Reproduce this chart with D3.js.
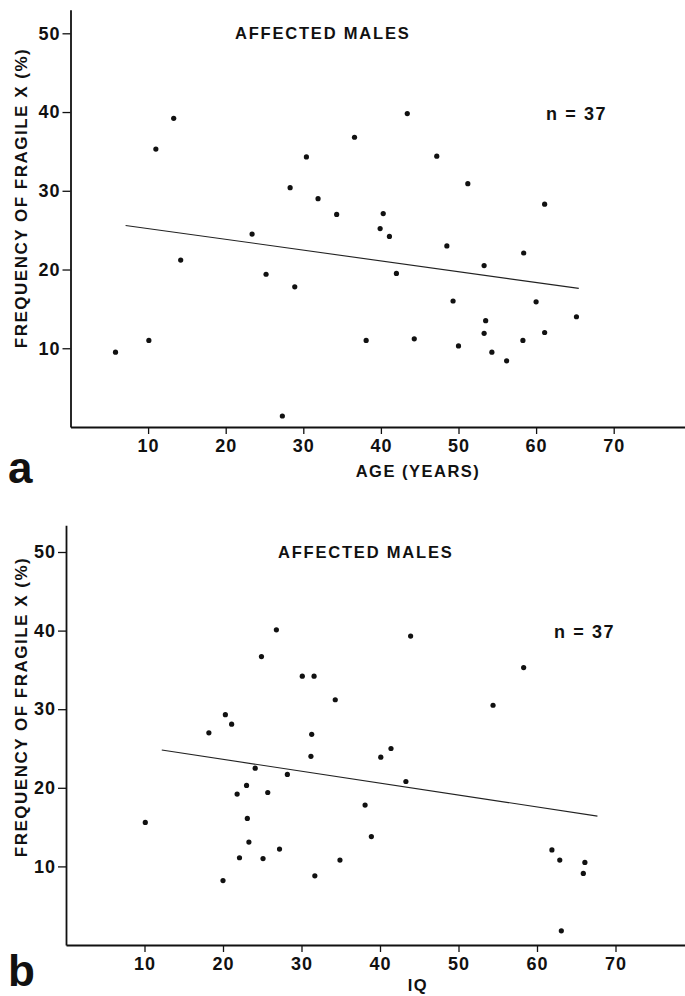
<!DOCTYPE html>
<html>
<head>
<meta charset="utf-8">
<script src="https://cdn.jsdelivr.net/npm/d3@7"></script>
<style>
    body { margin: 0; background: #fff; }
    svg { display: block; }
    text { font-family: "Liberation Sans", Arial, Helvetica, sans-serif; font-weight: bold; fill: #111; }
</style>
</head>
<body>
<script>
// panel a: age vs frequency of fragile X
var ageX = [11.0, 13.3, 28.3, 30.4, 31.9, 34.3, 36.6, 43.4, 40.3, 39.9, 41.1, 47.2, 51.2,
    61.1, 23.4, 48.5, 58.4, 14.2, 53.3, 25.2, 42.0, 28.9, 49.3, 60.0, 53.5, 65.2,
    53.3, 61.1, 5.8, 10.1, 38.1, 44.3, 58.3, 50.0, 54.3, 56.2, 27.3];
var ageFreq = [35.3, 39.2, 30.4, 34.3, 29.0, 27.0, 36.8, 39.8, 27.1, 25.2, 24.2, 34.4, 30.9,
    28.3, 24.5, 23.0, 22.1, 21.2, 20.5, 19.4, 19.5, 17.8, 16.0, 15.9, 13.5, 14.0,
    11.9, 12.0, 9.5, 11.0, 11.0, 11.2, 11.0, 10.3, 9.5, 8.4, 1.4];
var ageLine = [[7.1, 25.6], [65.5, 17.6]];

// panel b: IQ vs frequency of fragile X
var iqX = [26.8, 43.9, 24.9, 30.1, 31.6, 34.3, 58.3, 54.4, 20.3, 21.1, 18.2, 31.3, 31.2,
    40.1, 41.4, 24.1, 28.2, 43.3, 23.0, 21.8, 25.7, 38.1, 10.1, 23.1, 38.9, 23.3,
    27.2, 22.1, 25.1, 34.9, 61.9, 62.9, 66.1, 65.9, 20.0, 31.7, 63.1];
var iqFreq = [40.1, 39.3, 36.7, 34.2, 34.2, 31.2, 35.3, 30.5, 29.3, 28.1, 27.0, 26.8, 24.0,
    23.9, 25.0, 22.5, 21.7, 20.8, 20.3, 19.2, 19.4, 17.8, 15.6, 16.1, 13.8, 13.1,
    12.2, 11.1, 11.0, 10.8, 12.1, 10.8, 10.5, 9.1, 8.2, 8.8, 1.8];
var iqLine = [[12.2, 24.8], [67.7, 16.4]];

var xTicks = [10, 20, 30, 40, 50, 60, 70];
var yTicks = [10, 20, 30, 40, 50];
var yTitle = 'FREQUENCY OF FRAGILE X (%)';
var panelTitle = 'AFFECTED MALES';
var nLabel = 'n = 37';

var width = 685, height = 996;

var svg = d3.select('body').append('svg')
    .attr('width', width)
    .attr('height', height);

function drawPanel(opt) {
    var x = d3.scaleLinear().domain([0, 80]).range([opt.x0, opt.x0 + 80 * opt.kx]);
    var y = d3.scaleLinear().domain([0, opt.yTop]).range([opt.y0, opt.y0 - opt.yTop * opt.ky]);

    var g = svg.append('g');

    // axes
    var xAxis = d3.axisBottom(x).tickValues(xTicks).tickSize(7).tickSizeOuter(0).tickPadding(5);
    var yAxis = d3.axisLeft(y).tickValues(yTicks).tickSize(8).tickSizeOuter(0).tickPadding(2);

    var gx = g.append('g').attr('transform', 'translate(0,' + opt.y0 + ')').call(xAxis);
    var gy = g.append('g').attr('transform', 'translate(' + opt.x0 + ',0)').call(yAxis);

    [gx, gy].forEach(function (a) {
        a.select('.domain').attr('stroke', '#111').attr('stroke-width', 1.8);
        a.selectAll('.tick line').attr('stroke', '#111').attr('stroke-width', 1.3);
        a.selectAll('.tick text')
            .style('font-family', '"Liberation Sans", Arial, sans-serif')
            .style('font-weight', 'bold')
            .style('font-size', '18px')
            .style('letter-spacing', '1px')
            .attr('fill', '#111');
    });

    // regression line
    g.append('path')
        .datum(opt.line)
        .attr('d', d3.line().x(function (d) { return x(d[0]); }).y(function (d) { return y(d[1]); }))
        .attr('fill', 'none')
        .attr('stroke', '#222')
        .attr('stroke-width', 1.1);

    // points
    g.selectAll('circle.pt')
        .data(d3.range(opt.xs.length))
        .enter().append('circle')
        .attr('class', 'pt')
        .attr('cx', function (i) { return x(opt.xs[i]); })
        .attr('cy', function (i) { return y(opt.ys[i]); })
        .attr('r', 2.6)
        .attr('fill', '#111');

    // texts
    g.append('text')
        .attr('x', opt.titleX).attr('y', opt.titleY)
        .style('font-size', '16.5px').style('letter-spacing', '1.8px')
        .text(panelTitle);

    g.append('text')
        .attr('x', opt.nX).attr('y', opt.nY)
        .style('font-size', '18px').style('letter-spacing', '1.6px')
        .text(nLabel);

    g.append('text')
        .attr('x', 418).attr('y', opt.xLabelY)
        .attr('text-anchor', 'middle')
        .style('font-size', '16.5px').style('letter-spacing', '1.5px')
        .text(opt.xLabel);

    g.append('text')
        .attr('transform', 'translate(27,' + opt.yTitleY + ') rotate(-90)')
        .attr('text-anchor', 'middle')
        .style('font-size', '17px').style('letter-spacing', '1.5px')
        .text(yTitle);

    g.append('text')
        .attr('x', 8).attr('y', opt.letterY)
        .style('font-size', '44px').style('font-weight', '900')
        .text(opt.letter);
}

drawPanel({
    xs: ageX, ys: ageFreq, line: ageLine,
    x0: 70.5, kx: 7.76, y0: 427, ky: 7.874, yTop: 53,
    titleX: 235, titleY: 39, nX: 546, nY: 120,
    xLabel: 'AGE (YEARS)', xLabelY: 477, yTitleY: 198,
    letter: 'a', letterY: 483
});

drawPanel({
    xs: iqX, ys: iqFreq, line: iqLine,
    x0: 66, kx: 7.85, y0: 945, ky: 7.86, yTop: 53.4,
    titleX: 278, titleY: 558, nX: 554, nY: 638,
    xLabel: 'IQ', xLabelY: 991, yTitleY: 707,
    letter: 'b', letterY: 986
});
</script>
</body>
</html>
